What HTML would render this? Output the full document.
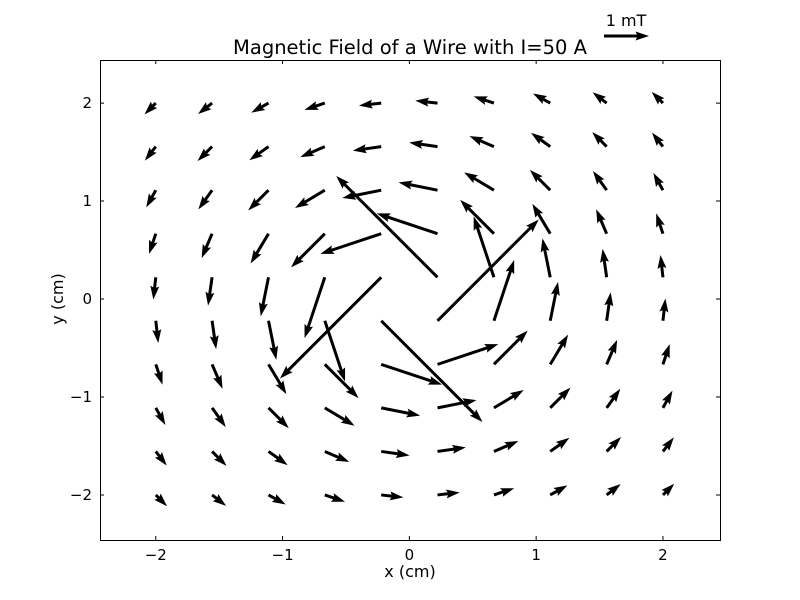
<!DOCTYPE html>
<html><head><meta charset="utf-8"><style>
html,body{margin:0;padding:0;background:#fff;}
svg{display:block;font-family:"DejaVu Sans","Liberation Sans",sans-serif;}
</style></head><body>
<svg id="chart" width="800" height="600" viewBox="0 0 800 600" xmlns="http://www.w3.org/2000/svg">
<rect x="0" y="0" width="800" height="600" fill="#fff"/>
<text x="410" y="54" font-size="19.5" text-anchor="middle">Magnetic Field of a Wire with I=50 A</text>
<text x="410" y="577" font-size="16" text-anchor="middle">x (cm)</text>
<text x="63" y="299" font-size="16" text-anchor="middle" transform="rotate(-90 63 299)">y (cm)</text>
<g id="ticks"></g>
<g id="arrows"></g>
<rect x="100.5" y="60.5" width="620" height="480" fill="none" stroke="#000" stroke-width="1"/>
<g id="key"></g>
</svg>
<script>
const gridX = [-2,-1.556,-1.111,-0.667,-0.222,0.222,0.667,1.111,1.556,2];
const gridY = [-2,-1.556,-1.111,-0.667,-0.222,0.222,0.667,1.111,1.556,2];
const U = [
 [0.25,0.3115,0.382,0.45,0.494,0.494,0.45,0.382,0.3115,0.25],
 [0.2424,0.3215,0.4257,0.5433,0.63,0.63,0.5433,0.4257,0.3215,0.2424],
 [0.2122,0.304,0.45,0.6617,0.865,0.865,0.6617,0.45,0.304,0.2122],
 [0.15,0.2329,0.397,0.75,1.351,1.351,0.75,0.397,0.2329,0.15],
 [0.0548,0.0899,0.173,0.45,2.25,2.25,0.45,0.173,0.0899,0.0548],
 [-0.0548,-0.0899,-0.173,-0.45,-2.25,-2.25,-0.45,-0.173,-0.0899,-0.0548],
 [-0.15,-0.2329,-0.397,-0.75,-1.351,-1.351,-0.75,-0.397,-0.2329,-0.15],
 [-0.2122,-0.304,-0.45,-0.6617,-0.865,-0.865,-0.6617,-0.45,-0.304,-0.2122],
 [-0.2424,-0.3215,-0.4257,-0.5433,-0.63,-0.63,-0.5433,-0.4257,-0.3215,-0.2424],
 [-0.25,-0.3115,-0.382,-0.45,-0.494,-0.494,-0.45,-0.382,-0.3115,-0.25]
];
const V = [
 [-0.25,-0.2424,-0.2122,-0.15,-0.0548,0.0548,0.15,0.2122,0.2424,0.25],
 [-0.3115,-0.3215,-0.304,-0.2329,-0.0899,0.0899,0.2329,0.304,0.3215,0.3115],
 [-0.382,-0.4257,-0.45,-0.397,-0.173,0.173,0.397,0.45,0.4257,0.382],
 [-0.45,-0.5433,-0.6617,-0.75,-0.45,0.45,0.75,0.6617,0.5433,0.45],
 [-0.494,-0.63,-0.865,-1.351,-2.25,2.25,1.351,0.865,0.63,0.494],
 [-0.494,-0.63,-0.865,-1.351,-2.25,2.25,1.351,0.865,0.63,0.494],
 [-0.45,-0.5433,-0.6617,-0.75,-0.45,0.45,0.75,0.6617,0.5433,0.45],
 [-0.382,-0.4257,-0.45,-0.397,-0.173,0.173,0.397,0.45,0.4257,0.382],
 [-0.3115,-0.3215,-0.304,-0.2329,-0.0899,0.0899,0.2329,0.304,0.3215,0.3115],
 [-0.25,-0.2424,-0.2122,-0.15,-0.0548,0.0548,0.15,0.2122,0.2424,0.25]
];
const xTicks = [-2,-1,0,1,2];
const yTicks = [-2,-1,0,1,2];
const keyValue = 1;
const keyLabel = "1 mT";

const NS = "http://www.w3.org/2000/svg";
const X0=100, X1=720, Y0=60, Y1=540, XMIN=-2.44, XMAX=2.45, YMIN=-2.46, YMAX=2.44;
const PXPER = 45;
function sx(v){return X0+(v-XMIN)/(XMAX-XMIN)*(X1-X0);}
function sy(v){return Y1-(v-YMIN)/(YMAX-YMIN)*(Y1-Y0);}
function fmt(v){return v<0?"\u2212"+(-v):String(v);}

function arrowPath(x,y,dx,dy){
  const L=Math.hypot(dx,dy); if(L<0.01) return "";
  const w=3, hl=13.5, hal=12, hw=9;
  let s=1; if(L<hl) s=L/hl;
  const W=w*s, HL=hl*s, HAL=hal*s, HW=hw*s;
  const pts=[[0,-W/2],[L-HAL,-W/2],[L-HL,-HW/2],[L,0],[L-HL,HW/2],[L-HAL,W/2],[0,W/2]];
  const c=dx/L, sn=dy/L;
  return pts.map((p,i)=>(i?"L":"M")+(x+p[0]*c-p[1]*sn).toFixed(2)+" "+(y+p[0]*sn+p[1]*c).toFixed(2)).join(" ")+"Z";
}

const tg=document.getElementById("ticks");
xTicks.forEach(t=>{
  const x=sx(t);
  const p=document.createElementNS(NS,"path");
  p.setAttribute("d",`M${x} ${Y1} v-4 M${x} ${Y0} v4`);
  p.setAttribute("stroke","#000");
  
  
  tg.appendChild(p);
  const tx=document.createElementNS(NS,"text");
  tx.setAttribute("x",x);tx.setAttribute("y",Y1+20);
  tx.setAttribute("font-size","15");tx.setAttribute("text-anchor","middle");
  tx.textContent=fmt(t);
  
  
  tg.appendChild(tx);
});
yTicks.forEach(t=>{
  const y=sy(t);
  const p=document.createElementNS(NS,"path");
  p.setAttribute("d",`M${X0} ${y} h4 M${X1} ${y} h-4`);
  p.setAttribute("stroke","#000");
  
  
  tg.appendChild(p);
  const tx=document.createElementNS(NS,"text");
  tx.setAttribute("x",X0-8);tx.setAttribute("y",y+5);
  tx.setAttribute("font-size","15");tx.setAttribute("text-anchor","end");
  tx.textContent=fmt(t);
  
  
  tg.appendChild(tx);
});

const ag=document.getElementById("arrows");
for(let j=0;j<gridY.length;j++){
  for(let i=0;i<gridX.length;i++){
    const p=document.createElementNS(NS,"path");
    p.setAttribute("d",arrowPath(sx(gridX[i]),sy(gridY[j]),U[j][i]*PXPER,-V[j][i]*PXPER));
    p.setAttribute("fill","#000");
    
    
    ag.appendChild(p);
  }
}
const kg=document.getElementById("key");
const kp=document.createElementNS(NS,"path");
kp.setAttribute("d",arrowPath(604,36,keyValue*PXPER,0));
kp.setAttribute("fill","#000");


kg.appendChild(kp);
const kt=document.createElementNS(NS,"text");
kt.setAttribute("x",626);kt.setAttribute("y",26);
kt.setAttribute("font-size","16");kt.setAttribute("text-anchor","middle");
kt.textContent=keyLabel;


kg.appendChild(kt);
</script>
</body></html>
